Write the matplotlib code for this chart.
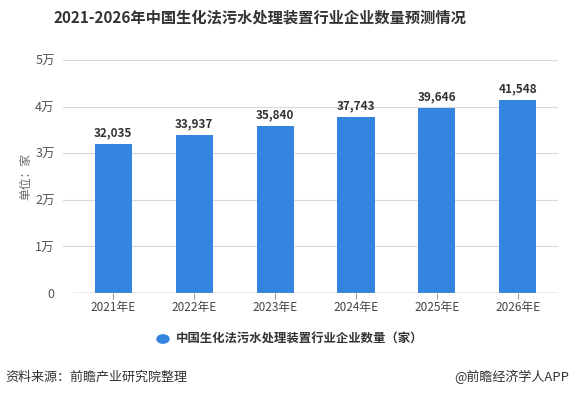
import numpy as np
import matplotlib
matplotlib.use('Agg')
from matplotlib import pyplot as plt

plt.rcParams['font.family'] = ['Noto Sans CJK SC', 'DejaVu Sans']

# 数据
years = ['2021年E', '2022年E', '2023年E', '2024年E', '2025年E', '2026年E']
counts = [32035, 33937, 35840, 37743, 39646, 41548]
yticks = [0, 10000, 20000, 30000, 40000, 50000]
ytick_labels = ['0', '1万', '2万', '3万', '4万', '5万']

title = '2021-2026年中国生化法污水处理装置行业企业数量预测情况'
legend_label = '中国生化法污水处理装置行业企业数量（家）'
source = '资料来源：前瞻产业研究院整理'
brand = '@前瞻经济学人APP'

bar_color = '#3385E0'

fig = plt.figure(figsize=(5.73, 3.96), dpi=100)
ax = fig.add_axes([0.110, 0.260, 0.864, 0.588])

x = np.arange(len(years))
bars = ax.bar(x, counts, width=0.46, color=bar_color, zorder=3)

for xi, v in zip(x, counts):
    ax.text(xi, v + 1000, f'{v:,}', ha='center', va='bottom',
            fontsize=8.5, fontweight='bold', color='#333333')

ax.set_xlim(-0.623, 5.5)
ax.set_ylim(0, 50000)
ax.set_yticks(yticks)
ax.set_yticklabels(ytick_labels)
ax.set_xticks(x)
ax.set_xticklabels(years)

for y in yticks[1:]:
    ax.axhline(y, color='#d9d9d9', lw=0.8, zorder=1)
ax.hlines(0, -0.5, 5.5, color='#999999', lw=1, zorder=4)

for s in ax.spines.values():
    s.set_visible(False)
ax.tick_params(axis='y', length=0, labelsize=9, labelcolor='#555555', pad=6)
ax.tick_params(axis='x', length=4, color='#999999', labelsize=8.5,
               labelcolor='#444444', pad=2)

ax.set_ylabel('单位：家', fontsize=8.5, color='#666666', labelpad=2)

fig.text(260 / 573, 0.955, title, ha='center', va='center', fontsize=11,
         fontweight='bold', color='#333333')

# 图例
fig.patches.append(plt.Circle((163 / 573, 1 - 339 / 396), 0.0105,
                              transform=fig.transFigure, color=bar_color,
                              figure=fig))
fig.text(176 / 573, 1 - 339 / 396, legend_label, ha='left', va='center',
         fontsize=8.9, fontweight='bold', color='#333333')

fig.text(5 / 573, 1 - 377 / 396, source, ha='left', va='center',
         fontsize=9.4, color='#333333')
fig.text(569 / 573, 1 - 377 / 396, brand, ha='right', va='center',
         fontsize=9.4, color='#333333')

fig.savefig('out.png', dpi=100)
